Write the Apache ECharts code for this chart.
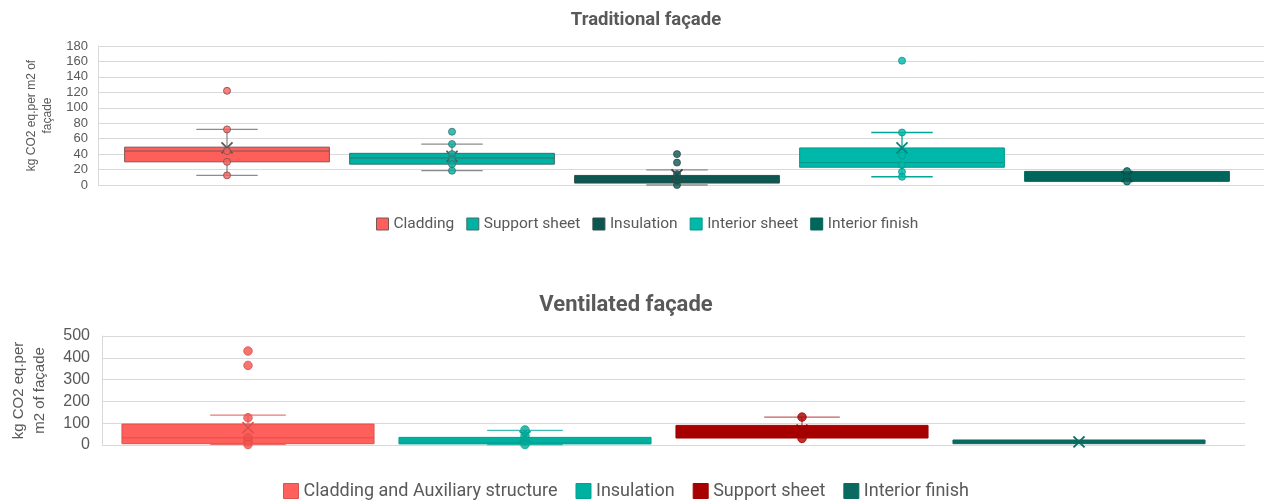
<!DOCTYPE html>
<html>
<head>
<meta charset="utf-8">
<script src="https://cdn.jsdelivr.net/npm/echarts@6/dist/echarts.min.js"></script>
<style>
  html, body { margin: 0; padding: 0; background: #ffffff; }
  #chart { width: 1264px; height: 500px; }
</style>
</head>
<body>
<div id="chart"></div>
<script>
// ---- Traditional façade: box statistics per layer (kg CO2 eq. per m2) ----
const tradCategories = ['Cladding', 'Support sheet', 'Insulation', 'Interior sheet', 'Interior finish'];
const tradMin    = [12.5, 18.5, 0,    10.7, 4.5];
const tradQ1     = [30,   27,   2.5,  23,   4.7];
const tradMedian = [44,   35,   7,    29,   12];
const tradQ3     = [49,   41,   12.4, 48,   17.6];
const tradMax    = [72,   53,   19.5, 68,   17.6];
const tradMean   = [48,   37,   13,   48,   11];
const tradPoints = [
  [122, 72, 44, 30, 12.5],
  [69, 53, 40, 33, 27, 18.5],
  [40, 29, 14, 6, 0],
  [161, 68, 38, 26, 17, 10.7],
  [18, 11, 4.5]
];
const tradTicks = [0, 20, 40, 60, 80, 100, 120, 140, 160, 180];

// ---- Ventilated façade ----
const ventCategories = ['Cladding and Auxiliary structure', 'Insulation', 'Support sheet', 'Interior finish'];
const ventMin    = [3,   2,  32,  6];
const ventQ1     = [6,   5,  32,  6];
const ventMedian = [33,  10, 56,  14];
const ventQ3     = [96,  35, 90,  23];
const ventMax    = [137, 67, 128, 23];
const ventMean   = [80,  38, 68,  14];
const ventPoints = [
  [431, 365, 125, 33, 15, 2],
  [69, 42, 20, 2],
  [128, 55, 30],
  []
];
const ventTicks = [0, 100, 200, 300, 400, 500];

// ---- Styles ----
const tradStyles = [
  { fill: '#FF5F5B', border: '#7A5656', whisker: '#8C8C8C', mean: '#595959', pt: '#FF5F5B', ptBorder: '#7A4E4E' },
  { fill: '#00B2A3', border: '#3F6E6A', whisker: '#8C8C8C', mean: '#595959', pt: '#00B2A3', ptBorder: '#3F6E6A' },
  { fill: '#0C5651', border: '#2E4E4B', whisker: '#8C8C8C', mean: '#404040', pt: '#0C5651', ptBorder: '#2E4E4B' },
  { fill: '#00B8A9', border: '#009A8C', whisker: '#00A797', mean: '#00887B', pt: '#00B8A9', ptBorder: '#009A8C' },
  { fill: '#00665C', border: '#00665C', whisker: '#00665C', mean: '#0A4F48', pt: '#00665C', ptBorder: '#0A4F48' }
];
const ventStyles = [
  { fill: '#FF605C', border: '#D9534F', whisker: '#E57A77', mean: '#D9534F', pt: '#F2524E', ptBorder: '#E04A46' },
  { fill: '#00B0A0', border: '#00A292', whisker: '#3CBDB1', mean: '#00A292', pt: '#00A999', ptBorder: '#00A292' },
  { fill: '#A80000', border: '#A00000', whisker: '#C06060', mean: '#9A0000', pt: '#A80000', ptBorder: '#A00000' },
  { fill: '#0B6A60', border: '#0B6A60', whisker: '#0B6A60', mean: '#0B6A60', pt: '#0B6A60', ptBorder: '#0B6A60' }
];

const GRID_COLOR = '#D9D9D9';
const TEXT_COLOR = '#595959';
const AXIS_FONT = 'Liberation Sans';
const LEGEND_FONT = 'Roboto';

// Draws one box: whiskers with short caps, box, median line and an X for the mean.
function boxRenderer(st) {
  return function (params, api) {
    const c = api.value(0);
    const at = (k) => api.coord([c, api.value(k)]);
    const lo = at(1), q1 = at(2), md = at(3), q3 = at(4), hi = at(5), mn = at(6);
    const band = api.size([1, 0])[0];
    const bw = band * 0.91;
    const cw = bw * 0.3;
    const x = lo[0];
    const line = (x1, y1, x2, y2, color, w) => ({
      type: 'line', shape: { x1, y1, x2, y2 }, style: { stroke: color, lineWidth: w || 1 }
    });
    const kids = [];
    if (q3[1] - hi[1] > 0.5) {
      kids.push(line(x, hi[1], x, q3[1], st.whisker, 1.3));
      kids.push(line(x - cw / 2, hi[1], x + cw / 2, hi[1], st.whisker, 1.3));
    }
    if (lo[1] - q1[1] > 0.5) {
      kids.push(line(x, q1[1], x, lo[1], st.whisker, 1.3));
      kids.push(line(x - cw / 2, lo[1], x + cw / 2, lo[1], st.whisker, 1.3));
    }
    kids.push({
      type: 'rect',
      shape: { x: x - bw / 2, y: q3[1], width: bw, height: Math.max(q1[1] - q3[1], 1) },
      style: { fill: st.fill, stroke: st.border, lineWidth: 1 }
    });
    kids.push(line(x - bw / 2, md[1], x + bw / 2, md[1], st.border, 1));
    const s = 5.5;
    kids.push(line(x - s, mn[1] - s, x + s, mn[1] + s, st.mean, 1.8));
    kids.push(line(x - s, mn[1] + s, x + s, mn[1] - s, st.mean, 1.8));
    return { type: 'group', children: kids };
  };
}

function buildSeries(cats, mins, q1s, meds, q3s, maxs, means, points, styles, xIdx, yIdx, ptSize) {
  const out = [];
  cats.forEach((name, i) => {
    const st = styles[i];
    out.push({
      name: name,
      type: 'custom',
      xAxisIndex: xIdx,
      yAxisIndex: yIdx,
      renderItem: boxRenderer(st),
      itemStyle: { color: st.fill, borderColor: st.border },
      encode: { x: 0, y: [1, 2, 3, 4, 5, 6] },
      data: [[i, mins[i], q1s[i], meds[i], q3s[i], maxs[i], means[i]]],
      z: 2,
      silent: true
    });
    out.push({
      name: name + ' points',
      type: 'scatter',
      xAxisIndex: xIdx,
      yAxisIndex: yIdx,
      symbol: 'circle',
      symbolSize: ptSize,
      itemStyle: { color: st.pt, borderColor: st.ptBorder, borderWidth: 1 },
      data: points[i].map(v => [i, v]),
      z: 3,
      silent: true
    });
  });
  return out;
}

const chart = echarts.init(document.getElementById('chart'), null, { renderer: 'canvas' });

const tradTop = 46, tradH = 139;
const ventTop = 336, ventH = 109;

const option = {
  backgroundColor: '#ffffff',
  animation: false,
  grid: [
    { left: 98, right: 0, top: tradTop, height: tradH },
    { left: 114.5, width: 1125, top: tradTop, height: tradH },
    { left: 96, width: 1149, top: ventTop, height: ventH },
    { left: 109.5, width: 1108, top: ventTop, height: ventH }
  ],
  xAxis: [
    { gridIndex: 0, type: 'value', show: false, min: 0, max: 1 },
    { gridIndex: 1, type: 'category', show: false, data: tradCategories },
    { gridIndex: 2, type: 'value', show: false, min: 0, max: 1 },
    { gridIndex: 3, type: 'category', show: false, data: ventCategories }
  ],
  yAxis: [
    {
      gridIndex: 0, type: 'value',
      min: tradTicks[0], max: tradTicks[tradTicks.length - 1], interval: tradTicks[1] - tradTicks[0],
      axisLine: { show: true, lineStyle: { color: GRID_COLOR } },
      axisTick: { show: false },
      axisLabel: { color: TEXT_COLOR, fontSize: 13, fontFamily: AXIS_FONT, margin: 10 },
      splitLine: { lineStyle: { color: GRID_COLOR } },
      name: 'kg CO2 eq.per m2 of\nfaçade',
      nameLocation: 'middle', nameRotate: 90, nameGap: 41,
      nameTextStyle: { color: TEXT_COLOR, fontSize: 12, fontFamily: AXIS_FONT, lineHeight: 16, align: 'center' }
    },
    { gridIndex: 1, type: 'value', show: false, min: tradTicks[0], max: tradTicks[tradTicks.length - 1] },
    {
      gridIndex: 2, type: 'value',
      min: ventTicks[0], max: ventTicks[ventTicks.length - 1], interval: ventTicks[1] - ventTicks[0],
      axisLine: { show: true, lineStyle: { color: GRID_COLOR } },
      axisTick: { show: false },
      axisLabel: { color: TEXT_COLOR, fontSize: 16, fontFamily: AXIS_FONT, margin: 12 },
      splitLine: { lineStyle: { color: GRID_COLOR } },
      name: 'kg CO2 eq.per\nm2 of façade',
      nameLocation: 'middle', nameRotate: 90, nameGap: 52,
      nameTextStyle: { color: TEXT_COLOR, fontSize: 15, fontFamily: AXIS_FONT, lineHeight: 21, align: 'center' }
    },
    { gridIndex: 3, type: 'value', show: false, min: ventTicks[0], max: ventTicks[ventTicks.length - 1] }
  ],
  legend: [
    {
      top: 211, left: 371,
      icon: 'rect', itemWidth: 12, itemHeight: 12, itemGap: 12,
      selectedMode: false,
      textStyle: { color: TEXT_COLOR, fontSize: 15.5, fontFamily: LEGEND_FONT },
      data: tradCategories.map((n, i) => ({ name: n, itemStyle: { color: tradStyles[i].fill, borderColor: tradStyles[i].border, borderWidth: 1 } }))
    },
    {
      top: 477, left: 278,
      icon: 'rect', itemWidth: 15, itemHeight: 15, itemGap: 18,
      selectedMode: false,
      textStyle: { color: TEXT_COLOR, fontSize: 18, fontFamily: LEGEND_FONT },
      data: ventCategories.map((n, i) => ({ name: n, itemStyle: { color: ventStyles[i].fill, borderColor: ventStyles[i].border, borderWidth: 1 } }))
    }
  ],
  graphic: [
    {
      type: 'text', x: 646, y: 20,
      style: { text: 'Traditional façade', fill: TEXT_COLOR, font: 'bold 18.5px Roboto', textAlign: 'center', textVerticalAlign: 'middle' }
    },
    {
      type: 'text', x: 626, y: 305,
      style: { text: 'Ventilated façade', fill: TEXT_COLOR, font: 'bold 22px Roboto', textAlign: 'center', textVerticalAlign: 'middle' }
    }
  ],
  series: [].concat(
    buildSeries(tradCategories, tradMin, tradQ1, tradMedian, tradQ3, tradMax, tradMean, tradPoints, tradStyles, 1, 1, 7),
    buildSeries(ventCategories, ventMin, ventQ1, ventMedian, ventQ3, ventMax, ventMean, ventPoints, ventStyles, 3, 3, 8.5)
  )
};

chart.setOption(option);
</script>
</body>
</html>
